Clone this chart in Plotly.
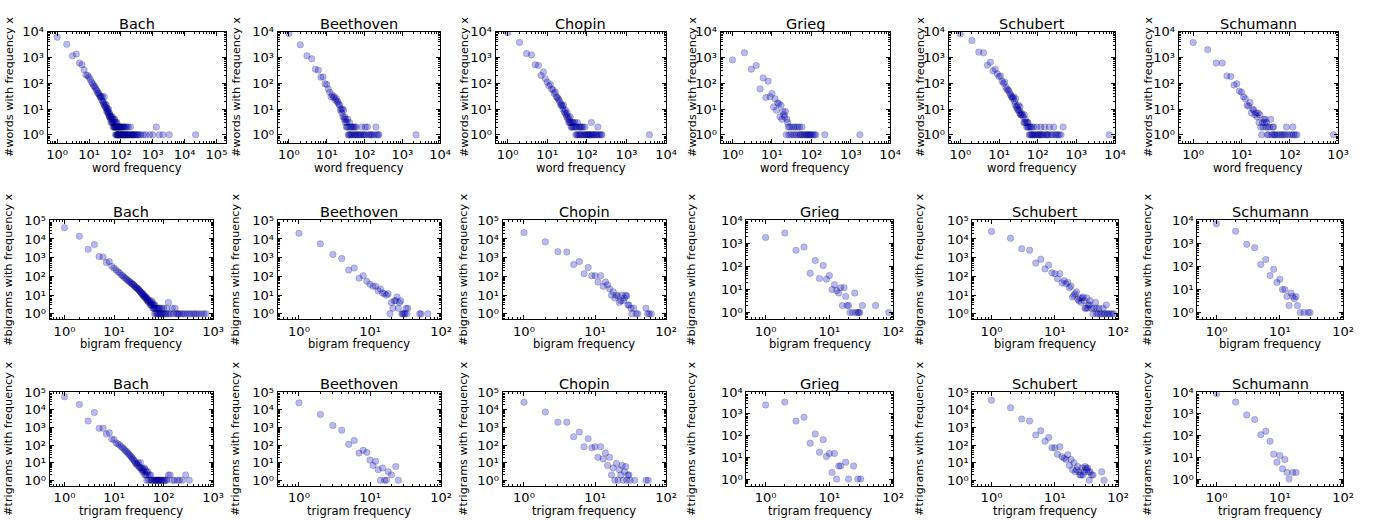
import math
import plotly.graph_objects as go

W, H = 1373, 520

COMPOSERS = ["Bach", "Beethoven", "Chopin", "Grieg", "Schubert", "Schumann"]
ROW_XLABELS = ["word frequency", "bigram frequency", "trigram frequency"]
ROW_YLABELS = ["#words with frequency x", "#bigrams with frequency x", "#trigrams with frequency x"]
SUP = "⁰¹²³⁴⁵⁶⁷⁸⁹"

# ---------------- data: (frequency x, number of n-grams with that frequency) ----------------
WORD_BACH = [(1,6000),(2,3200),(3,1150),(4,1350),(5,600),(6,520),(7,330),(8,210),(9,200),(10,170),(11,140),(12,110),(13,95),(14,80),(15,75),(16,65),(17,55),(18,50),(19,42),(20,40),(21,36),(22,30),(23,31),(24,28),(25,22),(26,30),(27,20),(28,18),(29,15),(30,30),(31,13),(32,16),(33,12),(34,11),(35,14),(36,8),(37,10),(38,9),(39,7),(40,8),(41,10),(42,6),(43,5),(44,7),(45,5),(46,6),(47,4),(48,5),(49,3),(50,5),(52,4),(53,3),(54,5),(55,3),(56,4),(57,2),(58,3),(60,4),(61,2),(62,3),(63,2),(64,4),(65,2),(66,3),(67,2),(68,1),(70,2),(71,3),(72,1),(73,2),(74,1),(75,3),(76,2),(78,1),(79,2),(80,1),(81,2),(82,1),(84,2),(85,1),(86,2),(88,1),(90,2),(92,1),(94,2),(95,1),(96,2),(98,1),(100,2),(102,1),(104,2),(105,1),(108,1),(110,2),(112,1),(115,1),(118,2),(120,1),(122,2),(125,1),(128,1),(130,2),(135,1),(140,2),(145,1),(150,1),(155,2),(160,1),(165,1),(170,2),(175,1),(180,1),(190,1),(200,2),(210,1),(220,1),(230,1),(240,1),(250,1),(260,1),(280,1),(300,1),(320,1),(340,1),(380,1),(420,1),(500,1),(600,1),(800,1),(1000,1),(1300,2),(1600,1),(2100,1),(3300,1),(22000,1)]
WORD_BEETHOVEN = [(1,8500),(2,3100),(3,1150),(4,880),(5,350),(6,320),(7,170),(8,175),(9,95),(10,90),(11,60),(12,45),(13,30),(14,35),(15,28),(16,30),(17,22),(18,25),(19,20),(20,18),(21,15),(22,14),(23,9),(24,10),(25,7),(26,10),(27,5),(28,9),(29,4),(30,5),(31,3),(32,4),(33,2),(34,3),(35,2),(36,4),(37,1),(38,2),(39,1),(40,3),(41,1),(42,2),(44,1),(45,2),(46,1),(48,2),(50,1),(52,2),(54,1),(56,2),(58,1),(60,2),(62,1),(65,1),(70,1),(75,1),(80,1),(85,2),(90,1),(95,1),(100,1),(105,2),(110,1),(120,2),(130,1),(140,1),(150,1),(160,1),(180,1),(200,2),(210,1),(230,1),(240,1),(2300,1)]
WORD_CHOPIN = [(1,9000),(2,3800),(3,1400),(4,1250),(5,520),(6,480),(7,200),(8,270),(9,150),(10,110),(11,80),(12,90),(13,60),(14,55),(15,40),(16,45),(17,30),(18,28),(19,25),(20,22),(21,18),(22,14),(23,15),(24,13),(25,10),(26,14),(27,8),(28,7),(29,9),(30,6),(31,5),(32,7),(33,4),(34,5),(35,3),(36,4),(37,3),(38,5),(39,3),(40,2),(41,3),(42,2),(44,3),(45,2),(46,3),(48,2),(50,3),(52,2),(53,1),(55,2),(56,1),(58,3),(60,1),(62,2),(64,1),(66,2),(68,1),(70,2),(72,1),(75,2),(78,1),(80,2),(85,1),(88,1),(90,2),(95,1),(100,1),(105,1),(110,1),(115,1),(120,1),(125,1),(130,3),(135,1),(140,1),(150,1),(160,1),(170,1),(180,1),(190,2),(200,1),(210,1),(230,1),(240,1),(3800,1)]
WORD_GRIEG = [(1,800),(2,1500),(3,350),(4,480),(5,60),(6,160),(7,28),(8,120),(9,30),(10,40),(11,12),(12,25),(13,9),(14,17),(15,16),(16,5),(17,14),(18,4),(19,8),(20,6),(21,5),(22,8),(23,1),(24,4),(25,3),(26,2),(27,1),(28,2),(30,1),(32,2),(34,1),(36,2),(38,1),(40,2),(42,1),(45,2),(48,1),(50,2),(52,1),(55,1),(58,2),(60,1),(65,1),(70,1),(75,1),(80,1),(85,1),(90,1),(95,1),(100,1),(110,1),(120,1),(130,1),(220,1),(1700,1)]
WORD_SCHUBERT = [(1,8000),(2,4500),(3,1600),(4,1500),(5,500),(6,650),(7,300),(8,350),(9,230),(10,180),(11,190),(12,120),(13,100),(14,110),(15,70),(16,60),(17,55),(18,50),(19,40),(20,35),(21,30),(22,28),(23,25),(24,30),(25,20),(26,15),(27,25),(28,12),(29,13),(30,10),(31,9),(32,14),(33,9),(34,7),(35,12),(36,6),(37,6),(38,7),(40,6),(42,5),(44,3),(45,6),(46,3),(48,4),(50,3),(52,2),(54,3),(55,2),(56,3),(58,2),(60,1),(62,2),(64,1),(66,2),(68,1),(70,2),(72,1),(75,1),(78,2),(80,1),(85,1),(90,1),(95,2),(100,1),(105,1),(110,1),(115,1),(120,2),(125,1),(130,1),(140,1),(150,2),(160,1),(170,1),(180,1),(190,1),(200,2),(220,1),(240,1),(260,2),(280,1),(300,1),(330,1),(360,1),(400,1),(450,2),(7000,1)]
WORD_SCHUMANN = [(1,3800),(2,2000),(3,600),(4,600),(5,190),(6,180),(7,85),(8,95),(9,50),(10,45),(11,30),(12,25),(13,14),(14,13),(15,18),(16,7),(17,10),(18,9),(19,6),(20,7),(21,5),(22,7),(23,3),(24,6),(25,2),(26,1),(27,3),(28,2),(29,4),(30,3),(31,4),(32,2),(33,3),(34,1),(35,2),(36,1),(38,2),(40,4),(42,1),(44,2),(45,1),(46,2),(48,1),(50,1),(55,1),(60,1),(65,1),(70,1),(75,1),(80,1),(85,2),(90,1),(100,1),(110,1),(115,2),(120,1),(130,1),(140,1),(800,1)]

BIGRAM_BACH = [(1,40000),(2,14000),(3,2800),(4,5000),(5,1150),(6,1100),(7,550),(8,620),(9,350),(10,280),(11,220),(12,180),(13,150),(14,120),(15,110),(16,90),(17,80),(18,70),(19,60),(20,55),(21,50),(22,45),(23,40),(24,38),(25,35),(26,30),(27,28),(28,25),(29,24),(30,22),(31,20),(32,18),(33,17),(34,15),(35,14),(36,12),(37,13),(38,10),(39,11),(40,9),(41,8),(42,9),(43,7),(44,8),(45,6),(46,7),(47,5),(48,6),(49,5),(50,4),(52,5),(53,4),(54,3),(55,4),(56,3),(57,5),(58,3),(60,4),(61,2),(62,3),(63,2),(64,3),(65,2),(66,1),(67,3),(68,2),(70,1),(72,2),(74,1),(75,2),(76,1),(78,2),(80,1),(82,2),(84,1),(85,2),(88,1),(90,1),(92,2),(95,1),(98,1),(100,2),(105,1),(110,1),(115,2),(120,1),(125,4),(130,1),(140,1),(150,2),(160,1),(170,2),(180,1),(190,1),(200,1),(210,1),(230,1),(250,1),(270,1),(300,1),(330,1),(360,1),(400,1),(430,1),(470,1),(520,1),(580,1),(650,1),(720,1)]
BIGRAM_BEETHOVEN = [(1,20000),(2,5500),(3,1500),(4,900),(5,220),(6,280),(7,80),(8,110),(9,55),(10,38),(11,30),(12,30),(13,17),(14,21),(15,13),(16,12),(17,10),(18,12),(19,1),(20,4),(21,2),(22,5),(23,5),(24,8),(25,2),(26,4),(27,5),(28,1),(29,1),(30,1),(31,1),(32,2),(33,1),(34,2),(50,1),(52,1),(65,1)]
BIGRAM_CHOPIN = [(1,22000),(2,7000),(3,2100),(4,2000),(5,430),(6,620),(7,140),(8,300),(9,110),(10,110),(11,50),(12,110),(13,30),(14,50),(15,35),(16,22),(17,10),(18,15),(19,7),(20,10),(21,9),(22,4),(23,5),(24,10),(25,5),(26,7),(27,10),(28,9),(29,3),(30,3),(32,2),(33,1),(35,2),(38,1),(40,1),(52,2),(55,1),(58,1),(62,1)]
BIGRAM_GRIEG = [(1,1800),(2,2800),(3,500),(4,700),(5,50),(6,180),(7,30),(8,110),(9,28),(10,40),(11,10),(12,16),(13,9),(14,7),(15,12),(16,2),(17,12),(18,5),(19,2),(20,2),(21,1),(23,1),(25,7),(26,1),(28,1),(29,1),(30,1),(33,2),(53,2),(85,1)]
BIGRAM_SCHUBERT = [(1,25000),(2,11000),(3,3000),(4,2500),(5,520),(6,820),(7,250),(8,400),(9,155),(10,140),(11,75),(12,140),(13,45),(14,60),(15,40),(16,48),(17,25),(18,30),(19,8),(20,10),(21,12),(22,15),(23,6),(24,5),(25,7),(26,4),(27,7),(28,8),(29,5),(30,2),(31,2),(32,7),(33,2),(34,3),(35,3),(36,5),(38,2),(40,1),(42,2),(44,4),(45,1),(46,2),(48,1),(50,2),(52,1),(55,1),(58,2),(60,1),(62,1),(65,3),(68,1),(70,1),(75,1),(80,1),(85,1)]
BIGRAM_SCHUMANN = [(1,7000),(2,3300),(3,900),(4,650),(5,120),(6,200),(7,40),(8,75),(9,20),(10,28),(11,10),(12,10),(13,5),(14,2),(15,7),(16,5),(17,4),(18,5),(19,2),(21,1),(24,1),(28,1),(30,1)]

TRIGRAM_BACH = [(1,55000),(2,20000),(3,2300),(4,7000),(5,900),(6,900),(7,420),(8,500),(9,220),(10,200),(11,130),(12,115),(13,100),(14,80),(15,70),(16,58),(17,48),(18,42),(19,35),(20,30),(21,26),(22,22),(23,19),(24,16),(25,14),(26,12),(27,10),(28,9),(29,8),(30,7),(31,10),(32,6),(33,5),(34,10),(35,5),(36,4),(37,5),(38,3),(39,4),(40,3),(41,5),(42,2),(43,4),(44,2),(45,3),(46,1),(47,2),(48,3),(50,1),(52,2),(54,1),(55,2),(57,1),(60,1),(63,1),(66,1),(68,1),(70,1),(72,1),(75,1),(78,1),(80,1),(82,1),(85,1),(88,1),(90,1),(95,1),(100,1),(105,1),(110,1),(115,1),(125,2),(135,2),(150,1),(165,1),(190,1),(210,1),(240,1),(280,2),(330,1)]
TRIGRAM_BEETHOVEN = [(1,25000),(2,5500),(3,1300),(4,700),(5,110),(6,180),(7,35),(8,50),(9,38),(10,14),(11,7),(12,12),(13,4),(14,1),(15,5),(16,1),(17,1),(18,3),(20,2),(23,6),(25,1)]
TRIGRAM_CHOPIN = [(1,27000),(2,7500),(3,2000),(4,2000),(5,300),(6,550),(7,80),(8,230),(9,70),(10,80),(11,20),(12,80),(13,16),(14,35),(15,7),(16,20),(17,2),(18,5),(19,1),(20,9),(21,1),(22,4),(23,2),(24,7),(25,1),(26,3),(27,6),(28,1),(29,2),(30,2),(31,1),(36,1),(52,1),(56,1)]
TRIGRAM_GRIEG = [(1,2600),(2,3500),(3,470),(4,700),(5,45),(6,120),(7,17),(8,65),(9,11),(10,15),(11,2),(12,15),(13,1),(14,4),(15,4),(18,6),(20,1),(24,4),(28,1),(31,1)]
TRIGRAM_SCHUBERT = [(1,35000),(2,13000),(3,3000),(4,2300),(5,370),(6,650),(7,165),(8,270),(9,70),(10,70),(11,30),(12,80),(13,22),(14,18),(15,15),(16,28),(17,7),(18,15),(19,4),(20,10),(21,3),(22,4),(23,6),(24,3),(25,2),(26,2),(27,5),(28,2),(29,3),(30,6),(31,5),(32,4),(33,5),(34,3),(35,1),(36,3),(38,2),(40,2),(55,3),(60,1)]
TRIGRAM_SCHUMANN = [(1,8500),(2,3500),(3,900),(4,550),(5,110),(6,160),(7,55),(8,14),(9,6),(10,12),(11,3),(12,8),(13,2),(14,1),(16,2),(18,2)]

PANELS = [
    [WORD_BACH, WORD_BEETHOVEN, WORD_CHOPIN, WORD_GRIEG, WORD_SCHUBERT, WORD_SCHUMANN],
    [BIGRAM_BACH, BIGRAM_BEETHOVEN, BIGRAM_CHOPIN, BIGRAM_GRIEG, BIGRAM_SCHUBERT, BIGRAM_SCHUMANN],
    [TRIGRAM_BACH, TRIGRAM_BEETHOVEN, TRIGRAM_CHOPIN, TRIGRAM_GRIEG, TRIGRAM_SCHUBERT, TRIGRAM_SCHUMANN],
]

# axis upper limits (decade exponents); lower limits are 0.5
X_TOP = [[5.3, 4, 4, 4, 4, 3], [3, 2, 2, 2, 2, 2], [3, 2, 2, 2, 2, 2]]
Y_TOP = [[4, 4, 4, 4, 4, 4], [5, 5, 5, 4, 5, 4], [5, 5, 5, 4, 5, 4]]
LOW = 0.5

# ---------------- layout (pixel boxes) ----------------
BOX_X = [
    [(47, 227), (279, 443), (499, 671), (726, 897), (956, 1124), (1188, 1349)],
    [(49, 214), (279, 444), (506, 671), (752, 900), (980, 1127), (1207, 1354)],
    [(49, 214), (279, 444), (506, 671), (752, 900), (980, 1127), (1207, 1354)],
]
BOX_Y = [(25, 138), (217, 318), (392, 487)]
YLABEL_X = [8, 237, 467, 697, 927, 1157]

FONT = "DejaVu Sans"

fig = go.Figure()
annotations = []


def minor_vals(lo, hi_exp):
    vals = []
    for k in range(-1, int(math.ceil(hi_exp)) + 1):
        for m in range(2, 10):
            v = m * 10 ** k
            if lo < v < 10 ** hi_exp:
                vals.append(v)
    return vals


def power_label(k):
    return "10" + "".join(SUP[int(ch)] for ch in str(k))


idx = 0
for r in range(3):
    for c in range(6):
        idx += 1
        data = PANELS[r][c]
        xs = [p[0] for p in data]
        ys = [p[1] for p in data]
        xa = "x" if idx == 1 else f"x{idx}"
        ya = "y" if idx == 1 else f"y{idx}"
        fig.add_trace(go.Scatter(
            x=xs, y=ys, mode="markers", xaxis=xa, yaxis=ya, showlegend=False,
            marker=dict(size=6.5, color="rgba(0,0,210,0.28)",
                        line=dict(color="rgba(0,0,0,0.28)", width=0.6)),
            hoverinfo="x+y",
        ))
        x0, x1 = BOX_X[r][c]
        y0, y1 = BOX_Y[r]
        xt = X_TOP[r][c]
        yt = Y_TOP[r][c]
        xmaj = list(range(0, int(math.floor(xt)) + 1))
        ymaj = list(range(0, int(math.floor(yt)) + 1))
        common = dict(
            type="log", showline=True, linecolor="black", linewidth=1, mirror="allticks",
            ticks="inside", ticklen=4, tickwidth=1, tickcolor="black",
            showgrid=False, zeroline=False, tickmode="array",
            tickfont=dict(family=FONT, size=13, color="black"),
        )
        fig.layout[("xaxis" if idx == 1 else f"xaxis{idx}")] = dict(
            common, domain=[x0 / W, x1 / W], anchor=ya,
            range=[math.log10(LOW), xt],
            tickvals=[10 ** k for k in xmaj],
            ticktext=[power_label(k) for k in xmaj],
            minor=dict(tickmode="array", tickvals=minor_vals(LOW, xt), ticks="inside",
                       ticklen=2, tickcolor="black", showgrid=False),
        )
        fig.layout[("yaxis" if idx == 1 else f"yaxis{idx}")] = dict(
            common, domain=[1 - y1 / H, 1 - y0 / H], anchor=xa,
            range=[math.log10(LOW), yt],
            tickvals=[10 ** k for k in ymaj],
            ticktext=[power_label(k) for k in ymaj],
            minor=dict(tickmode="array", tickvals=minor_vals(LOW, yt), ticks="inside",
                       ticklen=2, tickcolor="black", showgrid=False),
        )
        # title
        annotations.append(dict(
            text=COMPOSERS[c], x=(x0 + x1) / 2 / W, y=1 - y0 / H, xref="paper", yref="paper",
            xanchor="center", yanchor="bottom", showarrow=False, yshift=-2,
            font=dict(family=FONT, size=14.5, color="black")))
        # x label
        annotations.append(dict(
            text=ROW_XLABELS[r], x=(x0 + x1) / 2 / W, y=1 - y1 / H, xref="paper", yref="paper",
            xanchor="center", yanchor="top", showarrow=False, yshift=-16,
            font=dict(family=FONT, size=11.5, color="black")))
        # y label
        annotations.append(dict(
            text=ROW_YLABELS[r], x=YLABEL_X[c] / W, y=1 - (y0 + y1) / 2 / H,
            xref="paper", yref="paper", xanchor="center", yanchor="middle",
            textangle=-90, showarrow=False,
            font=dict(family=FONT, size=11.2, color="black")))

fig.update_layout(
    width=W, height=H, margin=dict(l=0, r=0, t=0, b=0),
    paper_bgcolor="white", plot_bgcolor="white",
    annotations=annotations,
    font=dict(family=FONT, color="black"),
)

fig.write_html("out.html", config={"displayModeBar": False},
               post_script="document.body.style.margin='0px';document.body.style.overflow='hidden';")
